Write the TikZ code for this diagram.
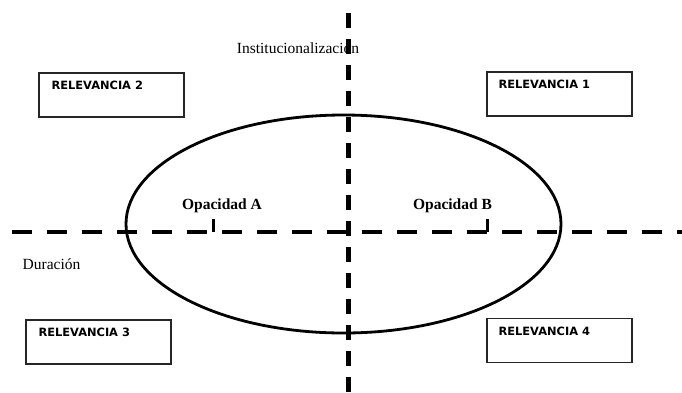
\documentclass[tikz,border=0pt]{standalone}
\usepackage{fontspec}
\setmainfont{Liberation Serif}
\newfontfamily\relfont{DejaVu Sans}
\usepackage{tikz}

\begin{document}
\begin{tikzpicture}[x=1pt,y=-1pt,
  relbox/.style={draw=black!85,line width=1.2pt,minimum width=145pt,minimum height=44pt,inner sep=0pt},
  reltext/.style={anchor=west,inner sep=0pt,font=\relfont\bfseries\fontsize{11.4}{13}\selectfont},
  axlabel/.style={inner sep=0pt,font=\fontsize{15.5}{18}\selectfont},
  oplabel/.style={inner sep=0pt,font=\bfseries\fontsize{15.5}{18}\selectfont}]
\useasboundingbox (0,0) rectangle (682,392);
\node[relbox] (r1) at (559.5,94) {};
\node[relbox] (r2) at (111.5,95) {};
\node[relbox] (r3) at (98.5,342) {};
\node[relbox] (r4) at (559.5,340.5) {};
\node[reltext] (t1) at ([xshift=12pt,yshift=-13pt]r1.north west) {RELEVANCIA 1};
\node[reltext] (t2) at ([xshift=13pt,yshift=-13pt]r2.north west) {RELEVANCIA 2};
\node[reltext] (t3) at ([xshift=13pt,yshift=-13pt]r3.north west) {RELEVANCIA 3};
\node[reltext] (t4) at ([xshift=12pt,yshift=-13pt]r4.north west) {RELEVANCIA 4};
\node[axlabel] (inst) at (298,48) {Institucionalización};
\node[axlabel] (dur) at (51.5,264) {Duración};
\node[oplabel] (opa) at (222,206) {Opacidad A};
\node[oplabel] (opb) at (452.5,206) {Opacidad B};
\draw[line width=2.8pt] (343.5,224) ellipse [x radius=217.5, y radius=109];
\coordinate (vtop) at (348,13);
\coordinate (vbot) at (348,392);
\coordinate (hleft) at (12,232);
\coordinate (hright) at (682,232);
\draw[line width=5pt,dash pattern=on 15pt off 11pt] (vtop) -- (vbot);
\draw[line width=4.5pt,dash pattern=on 20pt off 15pt] (hleft) -- (hright);
\draw[line width=3pt] (213,219) -- (213,232);
\draw[line width=3pt] (487,219) -- (487,232);
\end{tikzpicture}
\end{document}
